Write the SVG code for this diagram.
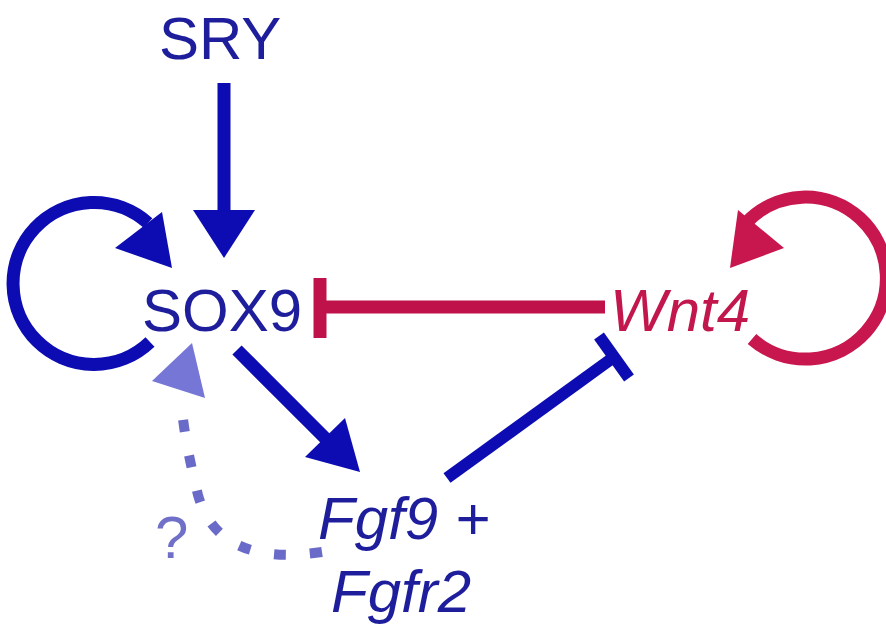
<svg xmlns="http://www.w3.org/2000/svg" width="886" height="626" viewBox="0 0 886 626">
  <style>
    .lbl { font-family: "Liberation Sans", Arial, sans-serif; font-size: 60px; }
    .blue-t { fill: #1e1e9c; }
    .red-t { fill: #c2174c; }
    .it { font-style: italic; }
    .act { fill: none; stroke: #0c0cb2; stroke-width: 13; }
    .head { fill: #0c0cb2; }
    .inh-r { fill: none; stroke: #c0124a; stroke-width: 13; }
    .inh-b { fill: none; stroke: #0c0cb2; stroke-width: 12; }
    .loop-r { fill: none; stroke: #c8164e; stroke-width: 13; }
    .head-r { fill: #c8164e; }
    .dash { fill: none; stroke: #6a6ac8; stroke-width: 10; stroke-dasharray: 12 24; }
    .head-l { fill: #7676d6; }
  </style>
  <rect width="886" height="626" fill="#ffffff"/>

  <g id="connectors">
    <!-- SRY activates SOX9 -->
    <line class="act" x1="224" y1="83" x2="224" y2="215"/>
    <polygon class="head" points="193,210 255,210 224,258"/>

    <!-- SOX9 self-activation loop -->
    <path class="act" d="M 150 342 A 81 81 0 1 1 148 223"/>
    <polygon class="head" points="115,248 162,212 172,268"/>

    <!-- SOX9 activates Fgf9 + Fgfr2 -->
    <line class="act" x1="237" y1="350" x2="330" y2="443"/>
    <polygon class="head" points="305,457 345,418 360,472"/>

    <!-- Wnt4 inhibits SOX9 -->
    <line class="inh-r" x1="320" y1="307" x2="605" y2="307"/>
    <line class="inh-r" x1="320" y1="278" x2="320" y2="338" stroke-width="10"/>

    <!-- Fgf9 + Fgfr2 inhibits Wnt4 -->
    <line class="inh-b" x1="447" y1="478" x2="614" y2="357"/>
    <line class="inh-b" x1="599" y1="336" x2="629" y2="378" stroke-width="11"/>

    <!-- Wnt4 self-activation loop -->
    <path class="loop-r" d="M 752 339 A 81 81 0 1 0 746 223"/>
    <polygon class="head-r" points="738,210 784,248 730,268"/>

    <!-- putative feedback from Fgf9 + Fgfr2 to SOX9 -->
    <path class="dash" d="M 322 552 C 255 562 212 545 198 495 C 190 462 183 430 181 398"/>
    <polygon class="head-l" points="152,381 205,398 192,343"/>
  </g>

  <g id="node-sry">
    <text class="lbl blue-t" x="159" y="59">SRY</text>
  </g>
  <g id="node-sox9">
    <text class="lbl blue-t" x="142" y="331">SOX9</text>
  </g>
  <g id="node-wnt4">
    <text class="lbl red-t it" x="610" y="331">Wnt4</text>
  </g>
  <g id="node-fgf">
    <text class="lbl blue-t it" x="318" y="539">Fgf9 +</text>
    <text class="lbl blue-t it" x="331" y="612">Fgfr2</text>
  </g>
  <g id="label-unknown">
    <text class="lbl" x="155" y="558" font-size="74" fill="#7070c8">?</text>
  </g>
</svg>
